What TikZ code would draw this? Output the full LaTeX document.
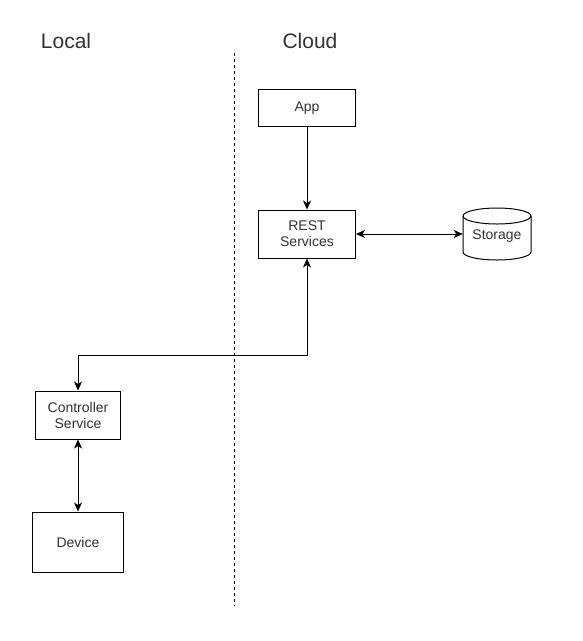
\documentclass[tikz,border=0pt]{standalone}
\usepackage{fontspec}
\setmainfont{Liberation Sans}
\usetikzlibrary{arrows.meta}
\definecolor{txt}{HTML}{333333}
\tikzset{
  boxnode/.style={draw=black, line width=1pt, fill=white, inner sep=0pt, align=center,
    font=\fontsize{14}{16}\selectfont, text=txt},
  title/.style={font=\fontsize{21}{25}\selectfont, text=txt, inner sep=0pt},
  conn/.style={line width=1pt, draw=black},
  tip/.tip={Stealth[length=9pt,width=8pt,inset=2.5pt]},
}
\begin{document}
\begin{tikzpicture}[x=1pt,y=-1pt]
\useasboundingbox (0,0) rectangle (582,641);
\fill[white] (0,0) rectangle (582,641);
% titles
\node[title] (local) at (66,41) {Local};
\node[title] (cloud) at (310,41) {Cloud};
% divider
\coordinate (dtop) at (234.5,53);
\coordinate (dbot) at (234.5,606);
\draw[line width=1pt, dash pattern=on 3pt off 3pt] (dtop) -- (dbot);
% boxes
\node[boxnode, minimum width=97pt, minimum height=37pt] (app) at (307,107.7) {App};
\node[boxnode, minimum width=97pt, minimum height=48pt] (rest) at (307,234) {REST\\Services};
\node[boxnode, minimum width=85pt, minimum height=48pt] (ctrl) at (78,415) {Controller\\Service};
\node[boxnode, minimum width=91pt, minimum height=60pt] (dev) at (78,542) {Device};
% storage cylinder
\draw[line width=1pt, fill=white] (463,216) -- (463,252) arc[start angle=180,end angle=0,x radius=34,y radius=8] -- (531,216) arc[start angle=0,end angle=-180,x radius=34,y radius=8] -- cycle;
\draw[line width=1pt] (463,216) arc[start angle=180,end angle=0,x radius=34,y radius=8];
\node[inner sep=0pt, minimum width=68pt, minimum height=52pt] (stor) at (497,234) {};
\node[font=\fontsize{14}{16}\selectfont, text=txt, inner sep=0pt] (storlabel) at (497,236) {Storage};
% connectors
\coordinate (hz) at (0,355);
\draw[conn, -tip] (app.south) -- (rest.north);
\draw[conn, tip-tip] (rest.east) -- (stor.west);
\draw[conn, tip-tip] (ctrl.north) -- (ctrl.north |- hz) -| (rest.south);
\draw[conn, tip-tip] (ctrl.south) -- (dev.north);
\end{tikzpicture}
\end{document}
